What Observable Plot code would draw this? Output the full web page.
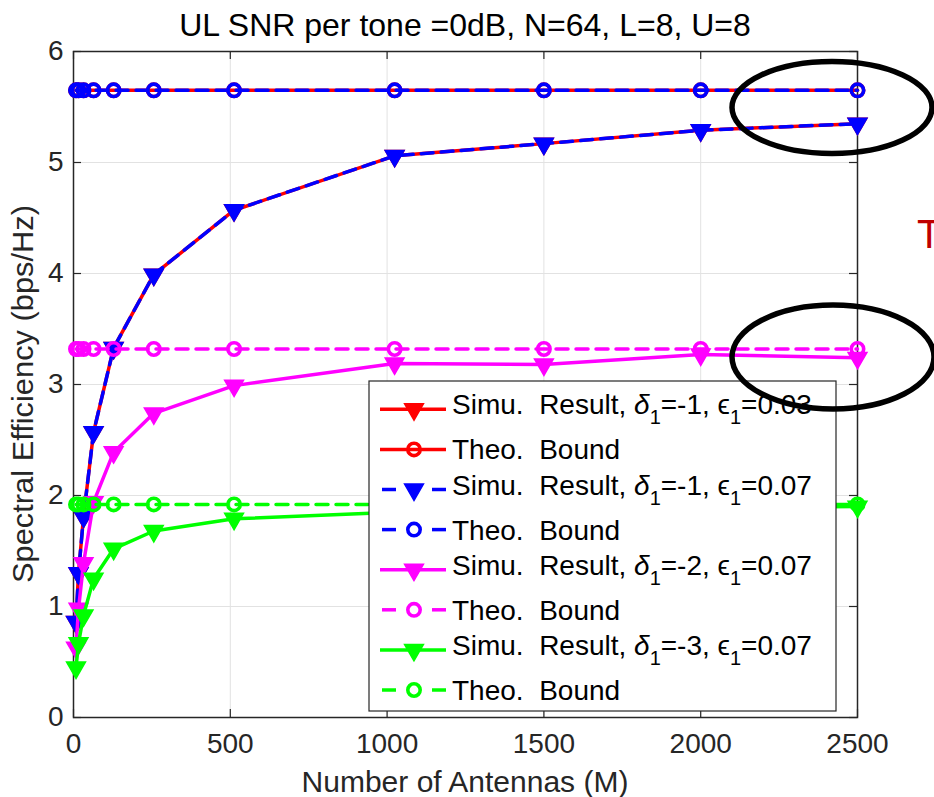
<!DOCTYPE html>
<html><head><meta charset="utf-8">
<script src="https://cdn.jsdelivr.net/npm/d3@7"></script>
<script src="https://cdn.jsdelivr.net/npm/@observablehq/plot@0.6"></script>
<style>
body{margin:0;background:#fff;}
#chart{position:relative;width:934px;height:797px;}
</style>
</head><body><div id="chart"></div>
<script>
// ---- data ----
const M = [8, 16, 32, 64, 128, 256, 512, 1024, 1500, 2000, 2500];
const simuD1E003 = [0.86, 1.30, 1.81, 2.57, 3.33, 3.99, 4.57, 5.06, 5.17, 5.29, 5.35];
const theoD1E003 = [5.65, 5.65, 5.65, 5.65, 5.65, 5.65, 5.65, 5.65, 5.65, 5.65, 5.65];
const simuD1E007 = [0.86, 1.30, 1.81, 2.57, 3.33, 3.99, 4.57, 5.06, 5.17, 5.29, 5.35];
const theoD1E007 = [5.65, 5.65, 5.65, 5.65, 5.65, 5.65, 5.65, 5.65, 5.65, 5.65, 5.65];
const simuD2E007 = [0.63, 0.98, 1.39, 1.94, 2.39, 2.74, 2.99, 3.19, 3.18, 3.27, 3.24];
const theoD2E007 = [3.32, 3.32, 3.32, 3.32, 3.32, 3.32, 3.32, 3.32, 3.32, 3.32, 3.32];
const simuD3E007 = [0.45, 0.67, 0.92, 1.25, 1.52, 1.68, 1.79, 1.85, 1.87, 1.89, 1.90];
const theoD3E007 = [1.92, 1.92, 1.92, 1.92, 1.92, 1.92, 1.92, 1.92, 1.92, 1.92, 1.92];

const xTicks = [0, 500, 1000, 1500, 2000, 2500];
const yTicks = [0, 1, 2, 3, 4, 5, 6];
const legendDelta = ["-1", "-1", "-2", "-3"];
const legendEps = ["0.03", "0.07", "0.07", "0.07"];
const titleText = "UL SNR per tone =0dB, N=64, L=8, U=8";
const xLabel = "Number of Antennas (M)";
const yLabel = "Spectral Efficiency (bps/Hz)";

// ---- series table ----
const series = [
  {color: "#ff0000", dash: null, sym: "tri", vals: simuD1E003},
  {color: "#ff0000", dash: null, sym: "circ", vals: theoD1E003},
  {color: "#0000ff", dash: "12,8", sym: "tri", vals: simuD1E007},
  {color: "#0000ff", dash: "12,8", sym: "circ", vals: theoD1E007},
  {color: "#ff00ff", dash: null, sym: "tri", vals: simuD2E007},
  {color: "#ff00ff", dash: "12,8", sym: "circ", vals: theoD2E007},
  {color: "#00ff00", dash: null, sym: "tri", vals: simuD3E007},
  {color: "#00ff00", dash: "12,8", sym: "circ", vals: theoD3E007}
];

const W = 934, H = 797;
const mL = 73, mR = 77, mT = 51, mB = 80;
const fw = W - mL - mR, fh = H - mT - mB;
const tickLen = 8;
const axisColor = "#262626";
const triR = 7, circR = 6.2, circSW = 3.6;

const marks = [
  Plot.ruleX(xTicks, {stroke: "#e2e2e2", strokeWidth: 1}),
  Plot.ruleY(yTicks, {stroke: "#e2e2e2", strokeWidth: 1}),
  Plot.ruleX(xTicks, {stroke: axisColor, strokeWidth: 1.2, insetTop: fh - tickLen}),
  Plot.ruleX(xTicks, {stroke: axisColor, strokeWidth: 1.2, insetBottom: fh - tickLen}),
  Plot.ruleY(yTicks, {stroke: axisColor, strokeWidth: 1.2, insetRight: fw - tickLen}),
  Plot.ruleY(yTicks, {stroke: axisColor, strokeWidth: 1.2, insetLeft: fw - tickLen}),
  Plot.frame({stroke: axisColor, strokeWidth: 1.5}),
  Plot.axisX(xTicks, {tickSize: 0, tickPadding: 16, label: null, fill: axisColor, tickFormat: d => String(d)}),
  Plot.axisY(yTicks, {tickSize: 0, tickPadding: 10, label: null, fill: axisColor, tickFormat: d => String(d)})
];

for (const s of series) {
  const rows = M.map((m, i) => ({M: m, v: s.vals[i]}));
  marks.push(Plot.line(rows, {x: "M", y: "v", stroke: s.color, strokeWidth: 3.5,
    strokeDasharray: s.dash ?? undefined, strokeLinejoin: "round"}));
  if (s.sym === "tri") {
    marks.push(Plot.dot(rows, {x: "M", y: "v", symbol: "triangle", r: triR, rotate: 180,
      fill: s.color, stroke: s.color, strokeWidth: 1.5}));
  } else {
    marks.push(Plot.dot(rows, {x: "M", y: "v", symbol: "circle", r: circR,
      fill: "none", stroke: s.color, strokeWidth: circSW}));
  }
}

const chart = Plot.plot({
  width: W, height: H,
  marginLeft: mL, marginRight: mR, marginTop: mT, marginBottom: mB,
  x: {domain: [0, 2500]},
  y: {domain: [0, 6]},
  style: {fontSize: "28px", fontFamily: "'Liberation Sans', Arial, Helvetica, sans-serif",
    background: "white", color: axisColor, overflow: "visible"},
  marks
});
document.getElementById("chart").appendChild(chart);

// ---- annotations: title, axis labels, legend ----
const svg = d3.select(chart);
const ff = "'Liberation Sans', Arial, Helvetica, sans-serif";

svg.append("text").attr("x", mL + fw / 2).attr("y", 36).attr("text-anchor", "middle")
  .attr("font-family", ff).attr("font-size", 32).attr("fill", "#000").text(titleText);
svg.append("text").attr("x", mL + fw / 2).attr("y", 792).attr("text-anchor", "middle")
  .attr("font-family", ff).attr("font-size", 30).attr("fill", axisColor).text(xLabel);
svg.append("text").attr("transform", `translate(33, ${mT + fh / 2 + 10}) rotate(-90)`)
  .attr("text-anchor", "middle").attr("font-family", ff).attr("font-size", 29)
  .attr("textLength", 378).attr("lengthAdjust", "spacingAndGlyphs")
  .attr("fill", axisColor).text(yLabel);

// legend
const lg = svg.append("g").attr("text-anchor", "start");
const lx = 369, ly = 381, lw = 467, lh = 330;
lg.append("rect").attr("x", lx).attr("y", ly).attr("width", lw).attr("height", lh)
  .attr("fill", "white").attr("stroke", axisColor).attr("stroke-width", 1.2);
series.forEach((s, i) => {
  const yy = 409.3 + i * 40.1;
  if (s.dash) {
    lg.append("line").attr("x1", 382).attr("x2", 396).attr("y1", yy).attr("y2", yy)
      .attr("stroke", s.color).attr("stroke-width", 3.5);
    lg.append("line").attr("x1", 432).attr("x2", 446).attr("y1", yy).attr("y2", yy)
      .attr("stroke", s.color).attr("stroke-width", 3.5);
  } else {
    lg.append("line").attr("x1", 380).attr("x2", 446).attr("y1", yy).attr("y2", yy)
      .attr("stroke", s.color).attr("stroke-width", 3.5);
  }
  if (s.sym === "tri") {
    lg.append("path").attr("d", d3.symbol(d3.symbolTriangle, Math.PI * triR * triR)())
      .attr("transform", `translate(414, ${yy}) rotate(180)`)
      .attr("fill", s.color).attr("stroke", s.color).attr("stroke-width", 1.5);
  } else {
    lg.append("circle").attr("cx", 414).attr("cy", yy).attr("r", circR)
      .attr("fill", "none").attr("stroke", s.color).attr("stroke-width", circSW);
  }
  const t = lg.append("text").attr("x", 452).attr("text-anchor", "start")
    .attr("font-family", ff).attr("font-size", 28)
    .attr("fill", "#000").style("white-space", "pre");
  if (s.sym === "tri") {
    const k = i / 2;
    t.attr("y", yy + 5);
    t.append("tspan").text("Simu.  Result, ");
    t.append("tspan").attr("font-style", "italic").text("δ");
    t.append("tspan").attr("font-size", 20).attr("dy", 10).text("1");
    t.append("tspan").attr("dy", -10).text(`=${legendDelta[k]}, `);
    t.append("tspan").text("ϵ");
    t.append("tspan").attr("font-size", 20).attr("dy", 10).text("1");
    t.append("tspan").attr("dy", -10).text(`=${legendEps[k]}`);
  } else {
    t.attr("y", yy + 10).text("Theo.  Bound");
  }
});

// hand-drawn highlight ellipses and the red letter cut off at the right edge (as in the reference)
svg.append("ellipse").attr("cx", 832).attr("cy", 107.5).attr("rx", 100).attr("ry", 46)
  .attr("fill", "none").attr("stroke", "#000").attr("stroke-width", 5.5);
svg.append("ellipse").attr("cx", 833).attr("cy", 357).attr("rx", 101).attr("ry", 52)
  .attr("fill", "none").attr("stroke", "#000").attr("stroke-width", 5.5);
svg.append("text").attr("x", 917).attr("y", 248).attr("text-anchor", "start").attr("font-family", ff)
  .attr("font-size", 40).attr("fill", "#c00000").text("T");
</script>
</body></html>
